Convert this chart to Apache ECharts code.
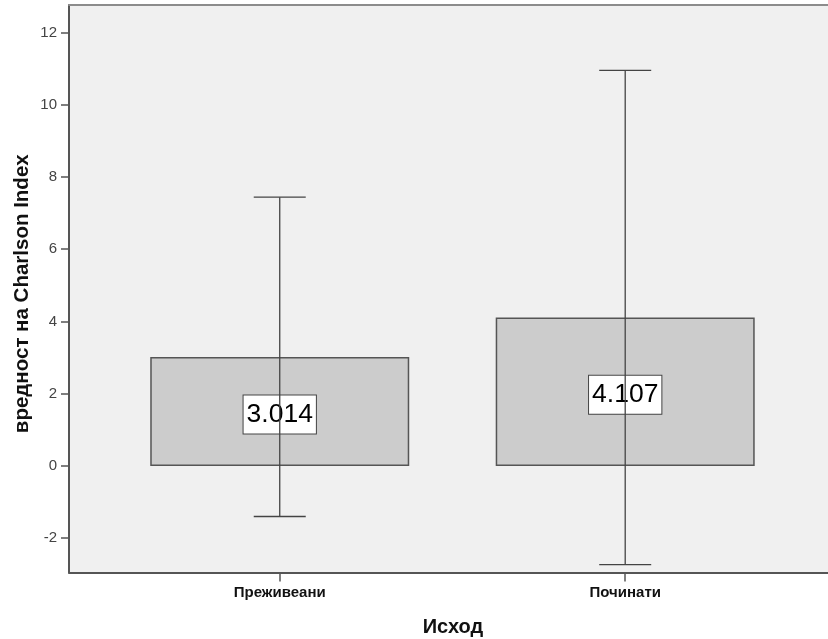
<!DOCTYPE html>
<html>
<head>
<meta charset="utf-8">
<style>
  html, body { margin: 0; padding: 0; background: #ffffff; }
  #chart { width: 828px; height: 639px; }
</style>
<script src="https://cdn.jsdelivr.net/npm/echarts@6/dist/echarts.min.js"></script>
</head>
<body>
<div id="chart"></div>
<script>
// Outcome groups and Charlson Index summary values
const categories = ['Преживеани', 'Починати'];
const groupPositions = [1, 2];
const means = [3.014, 4.107];
const upperLimits = [7.44, 10.95];
const lowerLimits = [-1.40, -2.73];
const yTicks = [-2, 0, 2, 4, 6, 8, 10, 12];

const FONT = 'Arial, "Liberation Sans", sans-serif';

const barData = groupPositions.map((p, i) => [p, means[i]]);
const errData = groupPositions.map((p, i) => [p, lowerLimits[i], upperLimits[i]]);

const chart = echarts.init(document.getElementById('chart'), null, { renderer: 'canvas' });

chart.setOption({
  animation: false,
  backgroundColor: '#ffffff',
  grid: {
    left: 69, right: 0, top: 5, bottom: 66.5,
    outerBoundsMode: 'none',
    containLabel: false,
    show: true, backgroundColor: '#f0f0f0', borderWidth: 0
  },
  xAxis: [{
    type: 'value',
    min: 0.39, max: 2.587,
    name: 'Исход',
    nameLocation: 'middle',
    nameGap: 45,
    nameMoveOverlap: false,
    nameTextStyle: { fontFamily: FONT, fontSize: 20, fontWeight: 'bold', color: '#111', padding: [0, 0, 0, 9] },
    axisLine: { show: true, onZero: false, lineStyle: { color: '#555', width: 2 } },
    axisTick: { show: true, length: 9, customValues: groupPositions, lineStyle: { color: '#555', width: 1.5 } },
    axisLabel: {
      customValues: groupPositions,
      margin: 13,
      fontFamily: FONT, fontSize: 15, fontWeight: 'bold', color: '#111',
      formatter: v => categories[groupPositions.indexOf(Math.round(v))] || ''
    },
    splitLine: { show: false }
  }, {
    type: 'value',
    position: 'top',
    min: 0.39, max: 2.587,
    axisLine: { show: true, onZero: false, lineStyle: { color: '#8c8c8c', width: 2 } },
    axisTick: { show: false },
    axisLabel: { show: false },
    splitLine: { show: false }
  }],
  yAxis: {
    type: 'value',
    min: -2.95, max: 12.76,
    name: 'вредност на Charlson Index',
    nameLocation: 'middle',
    nameGap: 36,
    nameMoveOverlap: false,
    nameTextStyle: { fontFamily: FONT, fontSize: 20.5, fontWeight: 'bold', color: '#111', padding: [0, 10, 0, 0] },
    axisLine: { show: true, onZero: false, lineStyle: { color: '#555', width: 2 } },
    axisTick: { show: true, length: 8, customValues: yTicks, lineStyle: { color: '#555', width: 1.5 } },
    axisLabel: {
      customValues: yTicks,
      margin: 12,
      fontFamily: FONT, fontSize: 15, color: '#444'
    },
    splitLine: { show: false }
  },
  series: [{
    type: 'bar',
    data: barData,
    barWidth: 259,
    z: 2,
    itemStyle: { color: '#cccccc', borderColor: '#555', borderWidth: 1.5 },
    label: {
      show: true,
      position: 'inside',
      offset: [0, 3],
      formatter: p => p.value[1].toFixed(3),
      fontFamily: FONT, fontSize: 26.5, color: '#000',
      backgroundColor: '#ffffff', borderColor: '#444', borderWidth: 1,
      lineHeight: 30, padding: [4, 3, 4, 3]
    }
  }, {
    type: 'custom',
    z: 10,
    data: errData,
    renderItem: function (params, api) {
      const x = api.value(0);
      const lo = api.coord([x, api.value(1)]);
      const hi = api.coord([x, api.value(2)]);
      const half = 26;
      const style = { stroke: '#444', lineWidth: 1.3 };
      return {
        type: 'group',
        children: [
          { type: 'line', shape: { x1: lo[0], y1: lo[1], x2: hi[0], y2: hi[1] }, style: style },
          { type: 'line', shape: { x1: hi[0] - half, y1: hi[1], x2: hi[0] + half, y2: hi[1] }, style: style },
          { type: 'line', shape: { x1: lo[0] - half, y1: lo[1], x2: lo[0] + half, y2: lo[1] }, style: style }
        ]
      };
    }
  }]
});
</script>
</body>
</html>
